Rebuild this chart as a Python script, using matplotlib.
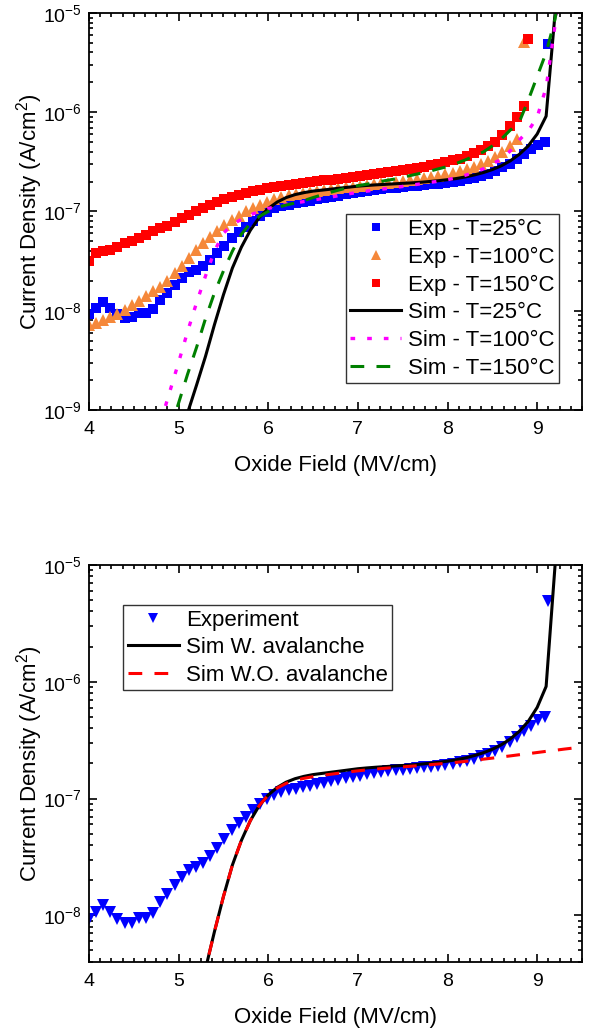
import numpy as np
import matplotlib
matplotlib.use('Agg')
import matplotlib.pyplot as plt
from matplotlib.ticker import MultipleLocator, LogLocator, NullFormatter

plt.rcParams['font.family'] = ['Liberation Sans', 'DejaVu Sans']
plt.rcParams['mathtext.fontset'] = 'custom'
plt.rcParams['mathtext.rm'] = 'Liberation Sans'
plt.rcParams['mathtext.it'] = 'Liberation Sans:italic'
plt.rcParams['mathtext.bf'] = 'Liberation Sans:bold'

# measured field sweep (MV/cm), each exp series uses its first len() points
field_exp = np.linspace(4.0, 9.09, 65)

# log10 of current density (A/cm^2)
log_exp_25 = [-8.03, -7.97, -7.915, -7.97, -8.03, -8.07, -8.065, -8.02, -8.025, -7.98,
              -7.89, -7.82, -7.745, -7.67, -7.61, -7.585, -7.55, -7.49, -7.42, -7.345,
              -7.27, -7.21, -7.16, -7.10, -7.045, -7.005, -6.97, -6.948, -6.93, -6.917,
              -6.905, -6.892, -6.879, -6.866, -6.853, -6.84, -6.827, -6.815, -6.804, -6.794,
              -6.785, -6.776, -6.768, -6.76, -6.753, -6.746, -6.74, -6.733, -6.726, -6.719,
              -6.712, -6.703, -6.69, -6.677, -6.66, -6.64, -6.62, -6.59, -6.557, -6.52,
              -6.475, -6.425, -6.375, -6.33, -6.30]
log_exp_100 = [-8.14, -8.12, -8.095, -8.065, -8.03, -7.99, -7.945, -7.90, -7.85, -7.80,
               -7.76, -7.70, -7.625, -7.545, -7.465, -7.39, -7.32, -7.255, -7.195, -7.14,
               -7.09, -7.045, -7.00, -6.965, -6.93, -6.90, -6.875, -6.855, -6.838, -6.823,
               -6.81, -6.80, -6.79, -6.781, -6.772, -6.764, -6.756, -6.749, -6.741, -6.733,
               -6.725, -6.717, -6.709, -6.70, -6.69, -6.68, -6.67, -6.66, -6.65, -6.638,
               -6.625, -6.61, -6.593, -6.573, -6.55, -6.525, -6.495, -6.455, -6.40, -6.34,
               -6.27]
log_exp_150 = [-7.50, -7.42, -7.40, -7.39, -7.355, -7.32, -7.295, -7.27, -7.235, -7.20,
               -7.17, -7.145, -7.105, -7.07, -7.035, -7.00, -6.962, -6.932, -6.903, -6.876,
               -6.85, -6.83, -6.815, -6.797, -6.78, -6.765, -6.752, -6.74, -6.73, -6.722,
               -6.715, -6.705, -6.697, -6.688, -6.678, -6.668, -6.658, -6.65, -6.641, -6.632,
               -6.623, -6.614, -6.604, -6.593, -6.582, -6.571, -6.56, -6.547, -6.533, -6.518,
               -6.503, -6.485, -6.467, -6.443, -6.413, -6.38, -6.343, -6.297, -6.23, -6.139,
               -6.045, -5.937]

# last (breakdown) point of each measurement: 25C, 100C, 150C
bd_field = [9.125, 8.85, 8.90]
bd_log = [-5.31, -5.29, -5.26]

# simulations
sim_field_25 = np.round(np.arange(5.0, 9.301, 0.1), 2)
log_sim_25 = [-9.30, -9.03, -8.75, -8.46, -8.14, -7.84, -7.57, -7.36, -7.19, -7.06,
              -6.97, -6.905, -6.86, -6.83, -6.81, -6.795, -6.785, -6.775, -6.765, -6.755,
              -6.745, -6.738, -6.732, -6.727, -6.722, -6.717, -6.712, -6.706, -6.698, -6.69,
              -6.68, -6.668, -6.652, -6.632, -6.608, -6.578, -6.54, -6.49, -6.425, -6.34,
              -6.22, -6.04, -5.0, -3.8]
sim_field_100 = np.round(np.arange(4.8, 9.301, 0.1), 2)
log_sim_100 = [-9.12, -8.82, -8.52, -8.21, -7.92, -7.65, -7.40, -7.22, -7.13, -7.08,
               -7.035, -7.00, -6.97, -6.948, -6.93, -6.915, -6.90, -6.885, -6.87, -6.855,
               -6.838, -6.822, -6.808, -6.795, -6.783, -6.772, -6.76, -6.748, -6.735, -6.722,
               -6.708, -6.695, -6.68, -6.66, -6.635, -6.605, -6.57, -6.52, -6.475, -6.39,
               -6.28, -6.19, -6.05, -5.75, -5.12, -4.3]
sim_field_150 = np.round(np.arange(4.9, 9.301, 0.1), 2)
log_sim_150 = [-9.22, -8.93, -8.64, -8.37, -8.08, -7.82, -7.60, -7.40, -7.23, -7.12,
               -7.05, -7.00, -6.96, -6.935, -6.915, -6.89, -6.86, -6.832, -6.806, -6.781,
               -6.758, -6.74, -6.725, -6.71, -6.69, -6.675, -6.655, -6.635, -6.615, -6.595,
               -6.57, -6.548, -6.515, -6.48, -6.44, -6.40, -6.34, -6.27, -6.18, -6.10,
               -5.88, -5.64, -5.40, -5.06, -4.5]
sim_field_wo = np.round(np.arange(5.0, 9.501, 0.1), 2)
log_sim_wo = [-9.30, -9.03, -8.75, -8.46, -8.14, -7.84, -7.57, -7.36, -7.19, -7.06,
              -6.97, -6.91, -6.87, -6.845, -6.827, -6.813, -6.802, -6.792, -6.782, -6.772,
              -6.763, -6.755, -6.748, -6.741, -6.735, -6.729, -6.723, -6.717, -6.711, -6.704,
              -6.697, -6.69, -6.682, -6.673, -6.663, -6.654, -6.644, -6.635, -6.625, -6.616,
              -6.606, -6.596, -6.587, -6.577, -6.568, -6.558]


def exp_series(logs, i):
    x = list(field_exp[:len(logs)]) + [bd_field[i]]
    y = 10.0 ** np.array(list(logs) + [bd_log[i]])
    return x, y


def style_axes(ax, ymin):
    ax.set_yscale('log')
    ax.set_xlim(4, 9.5)
    ax.set_ylim(ymin, 1e-5)
    ax.xaxis.set_major_locator(MultipleLocator(1))
    ax.xaxis.set_minor_locator(MultipleLocator(0.125))
    ax.yaxis.set_major_locator(LogLocator(base=10, numticks=10))
    ax.yaxis.set_minor_locator(LogLocator(base=10, subs=np.arange(2, 10), numticks=10))
    ax.yaxis.set_minor_formatter(NullFormatter())
    ax.tick_params(which='both', direction='in', top=True, right=True, width=1.2,
                   labelsize=14)
    ax.tick_params(which='major', length=5.5)
    ax.tick_params(which='minor', length=3)
    ax.tick_params(axis='x', pad=8)
    ax.tick_params(axis='y', pad=5)
    for s in ax.spines.values():
        s.set_linewidth(1.3)
    ax.set_xlabel('Oxide Field (MV/cm)', fontsize=16)
    ax.set_ylabel('Current Density (A/cm$\\mathregular{^2}$)', fontsize=16)
    ax.yaxis.set_label_coords(-0.089, 0.5)
    ax.xaxis.set_label_coords(0.5, -0.114)


fig = plt.figure(figsize=(5.9, 10.29), dpi=100)
ax1 = fig.add_axes([0.1508, 0.6016, 0.8356, 0.3858])
ax2 = fig.add_axes([0.1508, 0.0654, 0.8356, 0.3855])

orange = '#F5883A'

# top panel
x, y = exp_series(log_exp_25, 0)
ax1.plot(x, y, 's', color='#0000FF', ms=6.6, mew=0, label='Exp - T=25°C')
x, y = exp_series(log_exp_100, 1)
ax1.plot(x, y, '^', color=orange, ms=8, mew=0, label='Exp - T=100°C')
x, y = exp_series(log_exp_150, 2)
ax1.plot(x, y, 's', color='#FF0000', ms=6.6, mew=0, label='Exp - T=150°C')
ax1.plot(sim_field_25, 10.0 ** np.array(log_sim_25), '-', color='black', lw=2.2,
         label='Sim - T=25°C')
ax1.plot(sim_field_100, 10.0 ** np.array(log_sim_100), color='#FF00FF', lw=2.4,
         ls=(0, (1.4, 3.6)), label='Sim - T=100°C')
ax1.plot(sim_field_150, 10.0 ** np.array(log_sim_150), color='#008000', lw=2.2,
         ls=(0, (4.5, 4)), label='Sim - T=150°C')
style_axes(ax1, 1e-9)
leg1 = ax1.legend(loc='lower right', bbox_to_anchor=(0.953, 0.068), fontsize=16,
                  fancybox=False, edgecolor='#333333', framealpha=1, borderpad=0.2,
                  labelspacing=0.3, handlelength=2.3, handletextpad=0.3,
                  borderaxespad=0, numpoints=1, markerscale=0.85)
leg1.get_frame().set_linewidth(1.0)

# bottom panel
x, y = exp_series(log_exp_25, 0)
ax2.plot(x, y, 'v', color='#0000FF', ms=8, mew=0, label='Experiment')
ax2.plot(sim_field_25, 10.0 ** np.array(log_sim_25), '-', color='black', lw=2.2,
         label='Sim W. avalanche')
ax2.plot(sim_field_wo, 10.0 ** np.array(log_sim_wo), color='#FF0000', lw=2.2,
         ls=(0, (4.5, 4)), label='Sim W.O. avalanche')
style_axes(ax2, 4e-9)
leg2 = ax2.legend(loc='upper left', bbox_to_anchor=(0.07, 0.899), fontsize=16,
                  fancybox=False, edgecolor='#333333', framealpha=1, borderpad=0.2,
                  labelspacing=0.3, handlelength=2.3, handletextpad=0.3,
                  borderaxespad=0, numpoints=1, markerscale=0.85)
leg2.get_frame().set_linewidth(1.0)

fig.savefig('out.png', dpi=100)
